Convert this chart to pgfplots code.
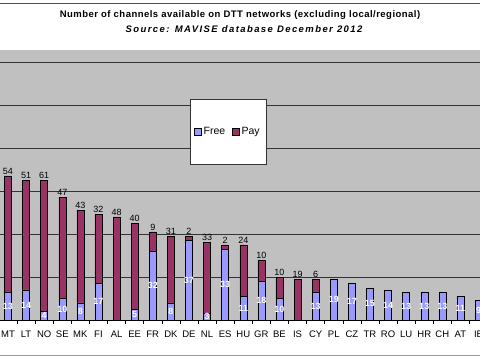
\documentclass[border=0pt]{standalone}
\usepackage{pgfplots}
\pgfplotsset{compat=1.18}
\usepackage{pgfplotstable}
\usepackage{fontspec}
\setmainfont{Liberation Sans}
\definecolor{freec}{HTML}{9999FF}
\definecolor{payc}{HTML}{993366}
\definecolor{plotbg}{HTML}{C0C0C0}

\pgfplotstableread{
x c free pay fl pl
0 MT 13 54 13 54
1 LT 14 51 14 51
2 NO 4 61 4 61
3 SE 10 47 10 47
4 MK 8 43 8 43
5 FI 17 32 17 32
6 AL 0 48 {} 48
7 EE 5 40 5 40
8 FR 32 9 32 9
9 DK 8 31 8 31
10 DE 37 2 37 2
11 NL 3 33 3 33
12 ES 33 2 33 2
13 HU 11 24 11 24
14 GR 18 10 18 10
15 BE 10 10 10 10
16 IS 0 19 {} 19
17 CY 13 6 13 6
18 PL 19 0 19 {}
19 CZ 17 0 17 {}
20 TR 15 0 15 {}
21 RO 14 0 14 {}
22 LU 13 0 13 {}
23 HR 13 0 13 {}
24 CH 13 0 13 {}
25 AT 11 0 11 {}
26 IE 9 0 9 {}
}\datatable

\pgfplotsset{
 common/.style={
  at={(0pt,40pt)}, anchor=south west,
  width=480pt, height=270pt, scale only axis,
  xmin=-0.44, xmax=26.08, ymin=0, ymax=125.6,
 }
}

\begin{document}
\begin{tikzpicture}[x=1pt,y=1pt]
\path[use as bounding box, fill=white] (0,0) rectangle (480,360);
\draw[black!70, line width=0.8pt] (0,357) -- (480,357);
\draw[black!40, line width=0.8pt] (0,5) -- (480,5);
\node[font=\bfseries\fontsize{9.5}{11}\selectfont\addfontfeatures{LetterSpace=5}] at (240,345) {Number of channels available on DTT networks (excluding local/regional)};
\node[font=\bfseries\itshape\fontsize{9.5}{11}\selectfont\addfontfeatures{LetterSpace=15}] at (244,331) {Source: MAVISE database December 2012};
\begin{axis}[
 common,
 ybar stacked, bar width=7pt,
 axis background/.style={fill=plotbg},
 axis line style={draw=none},
 ytick={20,40,...,120}, yticklabels={}, ytick style={draw=none},
 ymajorgrids, major grid style={black!80, line width=0.7pt},
 extra y ticks={0}, extra y tick labels={}, extra y tick style={grid=major, major grid style={black, line width=0.8pt}},
 xtick={0,...,26}, xticklabels from table={\datatable}{c},
 xtick pos=bottom,
 major x tick style={draw=none}, minor x tick num=1,
 minor x tick style={black, line width=0.6pt},
 minor tick length=4pt, tick align=outside,
 xticklabel style={font=\fontsize{9.5}{11}\selectfont, yshift=-3pt},
 legend style={at={(0.475,0.698)}, anchor=center, draw=black!80, fill=white,
   font=\fontsize{10.5}{12}\selectfont, inner ysep=26pt, inner xsep=4pt,
   /tikz/every even column/.append style={column sep=5pt}},
 legend columns=2,
 clip=false,
]
\addplot[fill=freec, draw=black, line width=0.5pt,
  legend image code/.code={\draw[fill=freec, draw=black, line width=0.4pt] (0pt,-3.5pt) rectangle (7pt,3.5pt);}]
  table[x=x,y=free]{\datatable};
\addplot[fill=payc, draw=black, line width=0.5pt,
  legend image code/.code={\draw[fill=payc, draw=black, line width=0.4pt] (0pt,-3.5pt) rectangle (7pt,3.5pt);}]
  table[x=x,y=pay]{\datatable};
\legend{Free, Pay}
\end{axis}
\begin{axis}[common, hide axis, clip=false]
\addplot[only marks, mark=none, draw=none,
  nodes near coords, point meta=explicit symbolic,
  every node near coord/.style={white, font=\bfseries\fontsize{9}{10}\selectfont, anchor=center, inner sep=0pt}]
  table[x=x, y expr=\thisrow{free}/2, meta=fl]{\datatable};
\addplot[only marks, mark=none, draw=none,
  nodes near coords, point meta=explicit symbolic,
  every node near coord/.style={black, font=\fontsize{9}{10}\selectfont, anchor=south, inner sep=1.5pt}]
  table[x=x, y expr=\thisrow{free}+\thisrow{pay}, meta=pl]{\datatable};
\end{axis}
\end{tikzpicture}
\end{document}
